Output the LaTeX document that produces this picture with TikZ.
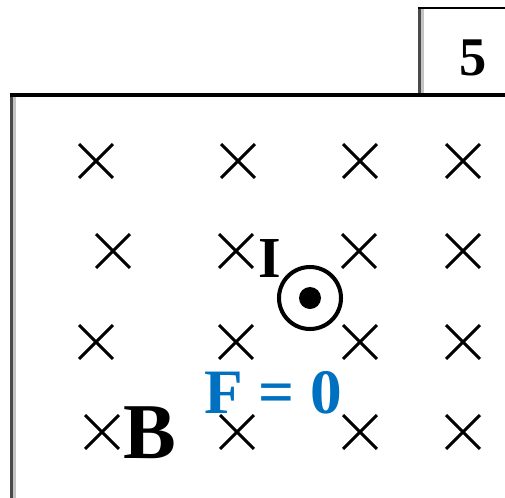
\documentclass[tikz,border=0pt]{standalone}
\usepackage{fontspec}
\setmainfont{Liberation Serif}
\definecolor{FieldBlue}{HTML}{0070C0}
\definecolor{EdgeDark}{HTML}{4A4A4A}
\definecolor{EdgeLight}{HTML}{C4C4C4}
\usetikzlibrary{positioning,shapes.misc}

\begin{document}
\begin{tikzpicture}[x=0.02cm, y=-0.02cm,
    fieldx/.style={draw, cross out, line width=1.7pt, minimum size=0.62cm, inner sep=0pt},
    lbl/.style={inner sep=0pt, anchor=base, font=\bfseries}]
    \useasboundingbox (0,0) rectangle (505,498);
    % frames
    \fill[EdgeDark] (418,7) rectangle (421,93);
    \fill[EdgeLight] (421,9) rectangle (424,93);
    \draw[line width=1.7pt] (418,8) -- (505,8);
    \fill[EdgeDark] (10,93) rectangle (13,498);
    \fill[EdgeLight] (13,97) rectangle (16,498);
    \draw[line width=2pt] (10,95) -- (505,95);
    \node[lbl, font=\bfseries\fontsize{31}{34}\selectfont] (num) at (473,75) {5};
    % field into the page
    \foreach \px/\py/\n in {96/161/a1, 238/161/a2, 360/161/a3, 463/161/a4,
                            113/251/b1, 236/251/b2, 359/251/b3, 463/251/b4,
                            96/342/c1, 236/342/c2, 360/342/c3, 463/342/c4,
                            102/432/d1, 237/432/d2, 360/432/d3, 463/432/d4}
      \node[fieldx] (\n) at (\px,\py) {};
    % wire out of the page
    \node[draw, circle, line width=2.3pt, minimum size=1.24cm, inner sep=0pt] (wire) at (310,298) {};
    \fill (wire.center) circle (11);
    \node[lbl, font=\bfseries\fontsize{33}{36}\selectfont] (cur) at (270,277) {I};
    \node[lbl, text=FieldBlue, font=\bfseries\fontsize{36}{40}\selectfont] (force) at (273,413) {F = 0};
    \node[lbl, font=\bfseries\fontsize{45}{48}\selectfont] (fld) at (150,458) {B};
\end{tikzpicture}
\end{document}
